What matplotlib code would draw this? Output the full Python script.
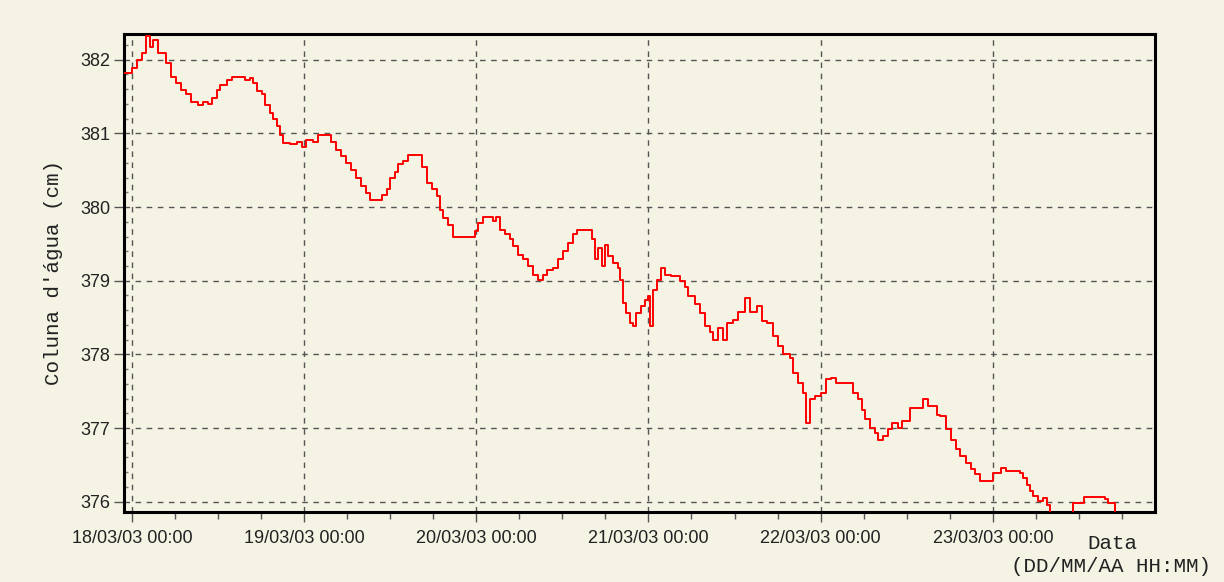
"""
Coluna d'água ao longo do tempo (18/03/03 a 23/03/03), estilo de gráfico de data logger.
"""
from datetime import datetime, timedelta

import matplotlib.pyplot as plt
import matplotlib.dates as mdates
from matplotlib.ticker import MultipleLocator

# hours since 18/03/03 00:00 and water column (cm)
hours = [
    -1.1, 0.0, 0.7, 1.4, 2.0, 2.5, 3.0, 3.7, 4.8, 5.5, 6.2, 6.9, 7.6, 8.3, 9.2,
    9.9, 10.6, 11.1, 11.8, 12.3, 13.2, 13.9, 15.7, 16.4, 16.9, 17.4, 18.1, 18.5,
    19.2, 19.7, 20.2, 20.6, 21.1, 22.0, 23.0, 23.7, 24.3, 25.3, 26.0, 27.1, 27.8,
    28.5, 29.2, 29.9, 30.6, 31.3, 32.0, 32.7, 33.2, 34.1, 34.8, 35.5, 36.0, 36.7,
    37.1, 37.8, 38.5, 39.7, 40.4, 41.1, 41.8, 42.5, 42.9, 43.4, 44.1, 44.8, 46.6,
    47.8, 48.3, 49.0, 50.4, 50.8, 51.3, 52.0, 52.7, 53.1, 53.8, 54.5, 55.2, 55.9,
    56.6, 57.3, 57.8, 58.7, 59.4, 60.1, 60.8, 61.5, 62.0, 63.6, 64.1, 64.5, 65.0,
    65.5, 65.9, 66.4, 67.1, 67.8, 68.0, 68.5, 68.9, 69.4, 69.9, 70.3, 71.0, 71.5,
    72.0, 72.2, 72.7, 73.2, 73.8, 74.3, 75.2, 76.4, 77.1, 77.5, 78.5, 79.2, 79.9,
    80.6, 81.0, 81.7, 82.4, 82.9, 83.8, 84.5, 85.4, 86.1, 87.1, 87.8, 88.5, 89.4,
    90.1, 90.8, 91.7, 92.2, 92.9, 93.6, 94.0, 94.5, 95.2, 96.1, 96.8, 97.5, 98.2,
    100.1, 100.5, 101.2, 101.7, 102.2, 102.9, 103.6, 104.0, 104.7, 105.4, 105.9,
    106.8, 107.3, 108.4, 109.6, 110.3, 111.0, 112.2, 112.6, 113.5, 114.2, 114.9,
    115.4, 116.3, 117.0, 117.5, 118.2, 119.6, 120.0, 121.2, 121.9, 123.8, 124.2,
    124.7, 125.2, 125.6, 126.3, 127.0, 127.5, 127.9, 131.2, 132.7, 135.6, 136.0,
    137.0, 137.7,
]
level = [
    381.82, 381.89, 382.0, 382.09, 382.32, 382.18, 382.27, 382.09, 381.95, 381.77,
    381.68, 381.59, 381.53, 381.43, 381.39, 381.43, 381.40, 381.48, 381.59, 381.66,
    381.73, 381.77, 381.73, 381.75, 381.68, 381.57, 381.53, 381.39, 381.28, 381.19,
    381.10, 380.98, 380.87, 380.85, 380.89, 380.82, 380.91, 380.89, 380.98, 380.98,
    380.89, 380.78, 380.69, 380.60, 380.51, 380.40, 380.28, 380.19, 380.10, 380.10,
    380.17, 380.24, 380.40, 380.48, 380.58, 380.62, 380.71, 380.71, 380.55, 380.33,
    380.24, 380.15, 379.96, 379.85, 379.76, 379.60, 379.60, 379.67, 379.78, 379.87,
    379.81, 379.87, 379.69, 379.63, 379.56, 379.47, 379.35, 379.29, 379.20, 379.08,
    379.01, 379.08, 379.15, 379.17, 379.29, 379.40, 379.51, 379.63, 379.69, 379.69,
    379.56, 379.29, 379.44, 379.20, 379.49, 379.33, 379.24, 379.17, 379.01, 378.70,
    378.56, 378.43, 378.38, 378.56, 378.65, 378.74, 378.79, 378.38, 378.88, 379.01,
    379.17, 379.08, 379.06, 378.99, 378.92, 378.79, 378.68, 378.56, 378.38, 378.31,
    378.20, 378.36, 378.20, 378.43, 378.47, 378.58, 378.77, 378.58, 378.65, 378.45,
    378.43, 378.25, 378.11, 378.00, 377.95, 377.75, 377.61, 377.48, 377.07, 377.39,
    377.43, 377.48, 377.66, 377.68, 377.61, 377.61, 377.48, 377.39, 377.25, 377.12,
    377.00, 376.93, 376.84, 376.89, 376.98, 377.07, 377.00, 377.09, 377.27, 377.27,
    377.39, 377.30, 377.18, 377.16, 376.98, 376.84, 376.71, 376.62, 376.53, 376.44,
    376.37, 376.28, 376.28, 376.39, 376.46, 376.42, 376.39, 376.32, 376.23, 376.14,
    376.08, 376.01, 376.05, 375.96, 375.80, 375.98, 376.07, 376.03, 375.98, 375.80,
    375.80,
]

start = datetime(2003, 3, 18)
times = [start + timedelta(hours=h) for h in hours]

bg = '#f5f3e4'
fig = plt.figure(figsize=(12.24, 5.82), dpi=100, facecolor=bg)
ax = fig.add_axes([0.1013, 0.1203, 0.8423, 0.8213], facecolor=bg)

ax.plot(times, level, color='#ff0000', lw=1.4, drawstyle='steps-post', zorder=3)

ax.set_xlim(start - timedelta(hours=1.1), start + timedelta(hours=142.6))
ax.set_ylim(375.86, 382.35)

# ticks
ax.xaxis.set_major_locator(mdates.DayLocator())
ax.xaxis.set_minor_locator(mdates.HourLocator(byhour=[6, 12, 18]))
ax.xaxis.set_major_formatter(mdates.DateFormatter('%d/%m/%y %H:%M'))
ax.yaxis.set_major_locator(MultipleLocator(1))
ax.yaxis.set_minor_locator(MultipleLocator(0.2))
ax.tick_params(axis='x', which='major', direction='out', length=7, width=1,
               color='#555', labelsize=13, pad=6)
ax.tick_params(axis='x', which='minor', direction='out', length=5, width=1, color='#555')
ax.tick_params(axis='y', which='major', direction='out', length=7, width=1,
               color='#555', labelsize=13, pad=3)
ax.tick_params(axis='y', which='minor', direction='in', length=3, width=1, color='#777')
for lbl in ax.get_xticklabels() + ax.get_yticklabels():
    lbl.set_family('Liberation Sans')
    lbl.set_color('#222')

ax.grid(True, which='major', color='#555', linestyle=(0, (4, 4)), lw=1, zorder=1)

for s in ax.spines.values():
    s.set_linewidth(2.2)
    s.set_color('black')

ax.set_ylabel("Coluna d'água (cm)", family='Liberation Mono', fontsize=15,
              color='#222', labelpad=12)
fig.text(0.9085, 0.067, 'Data', family='Liberation Mono', fontsize=15,
         color='#222', ha='center', va='center')
fig.text(0.908, 0.026, '(DD/MM/AA HH:MM)', family='Liberation Mono', fontsize=15,
         color='#222', ha='center', va='center')

fig.savefig('out.png', dpi=100, facecolor=bg)
